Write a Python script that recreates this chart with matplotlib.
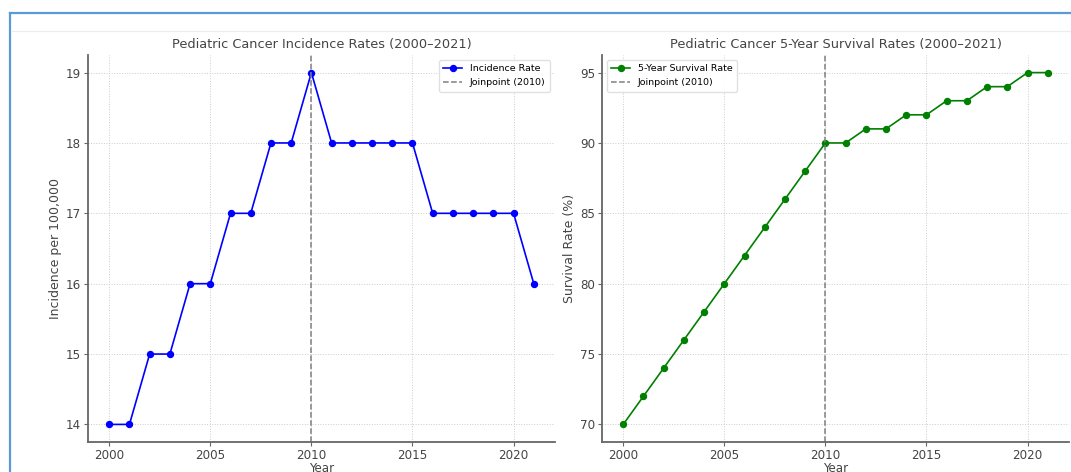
import numpy as np
import matplotlib.pyplot as plt
from matplotlib.lines import Line2D

# Yearly data, 2000-2021
years = list(range(2000, 2022))
incidence = [14, 14, 15, 15, 16, 16, 17, 17, 18, 18, 19,
             18, 18, 18, 18, 18, 17, 17, 17, 17, 17, 16]
survival = [70, 72, 74, 76, 78, 80, 82, 84, 86, 88, 90,
            90, 91, 91, 92, 92, 93, 93, 94, 94, 95, 95]
joinpoint = 2010

W, H = 1071, 472
fig = plt.figure(figsize=(W / 100, H / 100), dpi=100)

# outer frame around the figure
fig.add_artist(Line2D([10 / W, 10 / W], [0, 1 - 13 / H], color='#5b9bd5', lw=1.6))
fig.add_artist(Line2D([10 / W, 1], [1 - 13 / H, 1 - 13 / H], color='#5b9bd5', lw=1.6))
fig.add_artist(Line2D([12 / W, 1], [1 - 31 / H, 1 - 31 / H], color='#ececec', lw=0.8))

ax1 = fig.add_axes([88 / W, 30 / H, 467 / W, 387 / H])
ax2 = fig.add_axes([602 / W, 30 / H, 467 / W, 387 / H])


def style(ax, title, ylabel, ticks):
    ax.set_title(title, fontsize=9.3, color='#444444', pad=5)
    ax.set_xlabel('Year', fontsize=8.6, color='#444444', labelpad=0)
    ax.set_ylabel(ylabel, fontsize=9, color='#444444', labelpad=3)
    ax.set_xticks([2000, 2005, 2010, 2015, 2020])
    ax.set_yticks(ticks)
    ax.tick_params(labelsize=8.6, labelcolor='#444444', length=3, width=0.8,
                   color='#666666', pad=2)
    ax.grid(True, linestyle=':', color='#cccccc', linewidth=0.7)
    for s in ['top', 'right']:
        ax.spines[s].set_visible(False)
    for s in ['left', 'bottom']:
        ax.spines[s].set_color('#666666')
        ax.spines[s].set_linewidth(1.3)


ax1.plot(years, incidence, marker='o', color='blue', lw=1.2, markersize=4.3,
         label='Incidence Rate')
ax1.axvline(joinpoint, color='gray', linestyle='--', lw=1.1,
            label='Joinpoint (2010)')
style(ax1, 'Pediatric Cancer Incidence Rates (2000–2021)',
      'Incidence per 100,000', [14, 15, 16, 17, 18, 19])
ax1.legend(loc='upper right', fontsize=6.8, frameon=True, framealpha=0.9,
           edgecolor='#dddddd', fancybox=True, borderpad=0.5)

ax2.plot(years, survival, marker='o', color='green', lw=1.2, markersize=4.3,
         label='5-Year Survival Rate')
ax2.axvline(joinpoint, color='gray', linestyle='--', lw=1.1,
            label='Joinpoint (2010)')
style(ax2, 'Pediatric Cancer 5-Year Survival Rates (2000–2021)',
      'Survival Rate (%)', [70, 75, 80, 85, 90, 95])
ax2.legend(loc='upper left', fontsize=6.8, frameon=True, framealpha=0.9,
           edgecolor='#dddddd', fancybox=True, borderpad=0.5)

fig.savefig('out.png', dpi=100)
